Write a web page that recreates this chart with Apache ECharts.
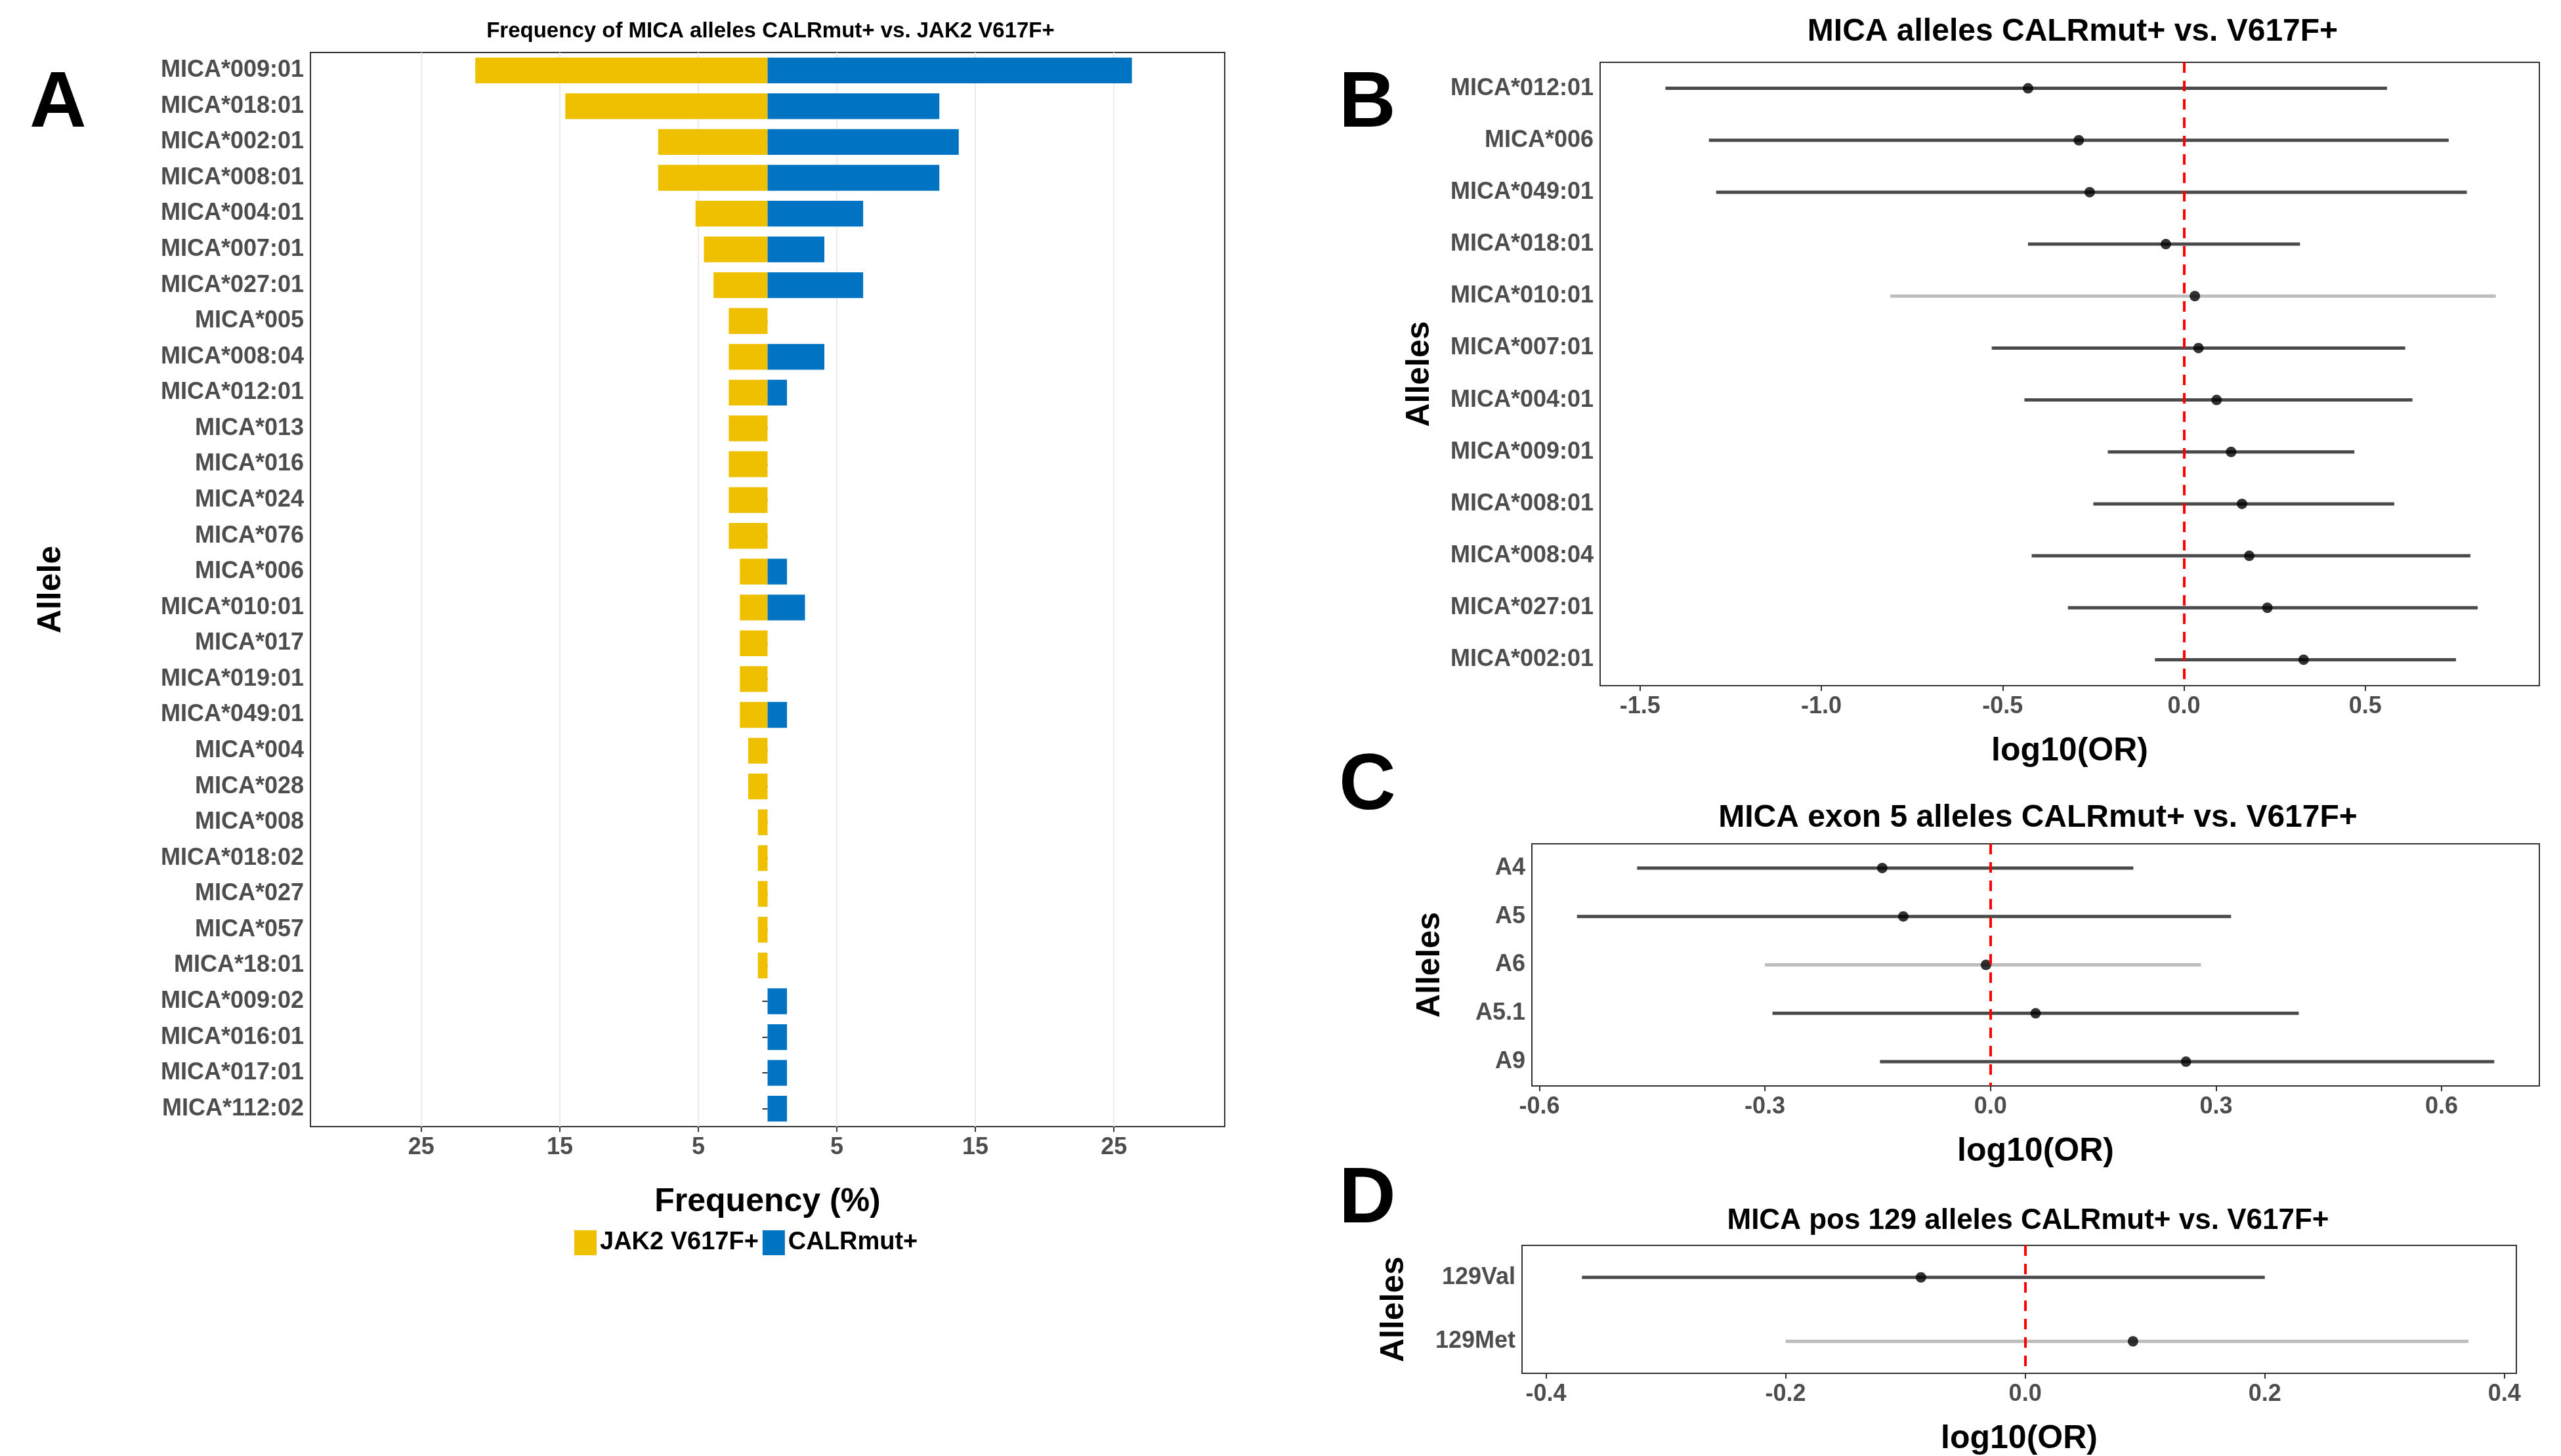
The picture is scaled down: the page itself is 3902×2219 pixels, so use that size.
<!DOCTYPE html>
<html><head><meta charset="utf-8">
<script src="https://cdn.jsdelivr.net/npm/echarts@6/dist/echarts.min.js"></script>
<style>html,body{margin:0;padding:0;background:#fff}#c{width:3902px;height:2219px}</style>
</head><body><div id="c"></div>
<script>
// Panel A
const allelesA = ["MICA*009:01","MICA*018:01","MICA*002:01","MICA*008:01","MICA*004:01","MICA*007:01","MICA*027:01","MICA*005","MICA*008:04","MICA*012:01","MICA*013","MICA*016","MICA*024","MICA*076","MICA*006","MICA*010:01","MICA*017","MICA*019:01","MICA*049:01","MICA*004","MICA*028","MICA*008","MICA*018:02","MICA*027","MICA*057","MICA*18:01","MICA*009:02","MICA*016:01","MICA*017:01","MICA*112:02"];
const jak2 = [21.1,14.6,7.9,7.9,5.2,4.6,3.9,2.8,2.8,2.8,2.8,2.8,2.8,2.8,2.0,2.0,2.0,2.0,2.0,1.4,1.4,0.7,0.7,0.7,0.7,0.7,0,0,0,0];
const calr = [26.3,12.4,13.8,12.4,6.9,4.1,6.9,0,4.1,1.4,0,0,0,0,1.4,2.7,0,0,1.4,0,0,0,0,0,0,0,1.4,1.4,1.4,1.4];
const ticksA = [-25,-15,-5,5,15,25];
// Panel B
const allelesB = ["MICA*012:01","MICA*006","MICA*049:01","MICA*018:01","MICA*010:01","MICA*007:01","MICA*004:01","MICA*009:01","MICA*008:01","MICA*008:04","MICA*027:01","MICA*002:01"];
const orB = [-0.43,-0.29,-0.26,-0.05,0.03,0.04,0.09,0.13,0.16,0.18,0.23,0.33];
const loB = [-1.43,-1.31,-1.29,-0.43,-0.81,-0.53,-0.44,-0.21,-0.25,-0.42,-0.32,-0.08];
const hiB = [0.56,0.73,0.78,0.32,0.86,0.61,0.63,0.47,0.58,0.79,0.81,0.75];
const lightB = [0,0,0,0,1,0,0,0,0,0,0,0];
// Panel C
const allelesC = ["A4","A5","A6","A5.1","A9"];
const orC = [-0.144,-0.116,-0.006,0.06,0.26];
const loC = [-0.47,-0.55,-0.30,-0.29,-0.147];
const hiC = [0.19,0.32,0.28,0.41,0.67];
const lightC = [0,0,1,0,0];
// Panel D
const allelesD = ["129Val","129Met"];
const orD = [-0.087,0.09];
const loD = [-0.37,-0.2];
const hiD = [0.2,0.37];
const lightD = [0,1];

const FONT = "'Liberation Sans Narrow','Liberation Sans',Arial,sans-serif";
const lab = {fontFamily:FONT,fontWeight:'bold',color:'#4d4d4d',fontSize:36};
const nameS = {fontFamily:"'Liberation Sans',Arial,sans-serif",fontWeight:'bold',color:'#000',fontSize:50};

const grids = [
 {left:473,width:1393,top:80,height:1637,show:true,borderColor:'#333',borderWidth:2},
 {left:2438,width:1431,top:95,height:950,show:true,borderColor:'#333',borderWidth:2},
 {left:2334,width:1535,top:1286,height:369,show:true,borderColor:'#333',borderWidth:2},
 {left:2319,width:1515,top:1898,height:197,show:true,borderColor:'#333',borderWidth:2}
];
function xa(i,min,max,interval,name,gap){
  return {gridIndex:i,type:'value',min,max,interval,name,nameLocation:'middle',nameGap:gap,nameTextStyle:nameS,
    axisLine:{show:false},axisTick:{show:true,length:8,lineStyle:{color:'#333',width:2}},
    axisLabel:Object.assign({margin:14},lab),splitLine:{show:false}};
}
function ya(i,data,gap){
  return {gridIndex:i,type:'category',data,inverse:true,name:'Alleles',nameLocation:'middle',nameGap:gap,nameTextStyle:nameS,
    axisLine:{show:false},axisTick:{show:true,alignWithLabel:true,length:8,lineStyle:{color:'#333',width:2}},
    axisLabel:Object.assign({margin:10},lab),splitLine:{show:false}};
}
const xA = xa(0,-33,33,null,'Frequency (%)',90);
xA.axisLabel.customValues = ticksA; xA.axisTick.customValues = ticksA;
xA.axisLabel.formatter = v=>String(Math.abs(v));
xA.splitLine = {show:true,lineStyle:{color:'#ebebeb',width:2}};
xA.minorTick={show:false,splitNumber:2}; 
const yA = ya(0,allelesA,370); yA.name='Allele';
yA.splitLine={show:false};

function forest(i,or,lo,hi,light){
  return [{
    type:'custom',xAxisIndex:i,yAxisIndex:i,
    data: or.map((v,k)=>[lo[k],hi[k],k,light[k]]),
    renderItem:(params,api)=>{
      const a=api.coord([api.value(0),api.value(2)]), b=api.coord([api.value(1),api.value(2)]);
      return {type:'line',shape:{x1:a[0],y1:a[1],x2:b[0],y2:b[1]},
        style:{stroke:api.value(3)?'#bdbdbd':'#4a4a4a',lineWidth:5}};
    },z:2
  },{
    type:'scatter',xAxisIndex:i,yAxisIndex:i,data:or.map((v,k)=>[v,k]),symbolSize:16,
    itemStyle:{color:'#000'},z:4,
    markLine:{silent:true,symbol:'none',label:{show:false},lineStyle:{color:'#ff0000',type:[16,12],width:4},data:[{xAxis:0}]}
  }];
}

const opt = {
  animation:false,
  textStyle:{fontFamily:FONT},
  grid:grids,
  title:[
    {text:'Frequency of MICA alleles CALRmut+ vs. JAK2 V617F+',left:1169,top:26,textAlign:'center',textStyle:{fontFamily:FONT,fontWeight:'bold',fontSize:33,color:'#000'}},
    {text:'MICA alleles CALRmut+ vs. V617F+',left:3153,top:20,textAlign:'center',textStyle:{fontFamily:FONT,fontWeight:'bold',fontSize:48,color:'#000'}},
    {text:'MICA exon 5 alleles CALRmut+ vs. V617F+',left:3100,top:1218,textAlign:'center',textStyle:{fontFamily:FONT,fontWeight:'bold',fontSize:48,color:'#000'}},
    {text:'MICA pos 129 alleles CALRmut+ vs. V617F+',left:3085,top:1834,textAlign:'center',textStyle:{fontFamily:FONT,fontWeight:'bold',fontSize:44,color:'#000'}},
    {text:'A',left:40,top:95,textStyle:{fontFamily:FONT,fontWeight:'bold',fontSize:120,color:'#000'}},
    {text:'B',left:2035,top:95,textStyle:{fontFamily:FONT,fontWeight:'bold',fontSize:120,color:'#000'}},
    {text:'C',left:2035,top:1135,textStyle:{fontFamily:FONT,fontWeight:'bold',fontSize:120,color:'#000'}},
    {text:'D',left:2035,top:1765,textStyle:{fontFamily:FONT,fontWeight:'bold',fontSize:120,color:'#000'}}
  ],
  legend:{data:['JAK2 V617F+','CALRmut+'],left:'auto',right:2902-1169-400+0,top:1870,itemGap:6,itemWidth:34,itemHeight:38,
    textStyle:{fontFamily:FONT,fontWeight:'bold',fontSize:38,color:'#000'},icon:'rect'},
  xAxis:[xA, xa(1,-1.61,0.98,null,'log10(OR)',75), xa(2,-0.61,0.73,null,'log10(OR)',75), xa(3,-0.42,0.41,null,'log10(OR)',75)],
  yAxis:[yA, ya(1,allelesB,250), ya(2,allelesC,130), ya(3,allelesD,170)],
  series:[
    {name:'JAK2 V617F+',type:'bar',stack:'a',xAxisIndex:0,yAxisIndex:0,barWidth:'72%',data:jak2.map(v=>-v),itemStyle:{color:'#EFC000'}},
    {name:'CALRmut+',type:'bar',stack:'a',xAxisIndex:0,yAxisIndex:0,barWidth:'72%',data:calr,itemStyle:{color:'#0073C2'}},
    ...forest(1,orB,loB,hiB,lightB),
    ...forest(2,orC,loC,hiC,lightC),
    ...forest(3,orD,loD,hiD,lightD)
  ]
};
opt.xAxis[1].customValues=undefined;
opt.xAxis[1].axisLabel.customValues=[-1.5,-1,-0.5,0,0.5];
opt.xAxis[1].axisTick.customValues=[-1.5,-1,-0.5,0,0.5];
opt.xAxis[1].axisLabel.formatter=v=>v.toFixed(1);
opt.xAxis[2].axisLabel.customValues=[-0.6,-0.3,0,0.3,0.6];
opt.xAxis[2].axisTick.customValues=[-0.6,-0.3,0,0.3,0.6];
opt.xAxis[2].axisLabel.formatter=v=>v.toFixed(1);
opt.xAxis[3].axisLabel.customValues=[-0.4,-0.2,0,0.2,0.4];
opt.xAxis[3].axisTick.customValues=[-0.4,-0.2,0,0.2,0.4];
opt.xAxis[3].axisLabel.formatter=v=>v.toFixed(1);
opt.legend.left=870; delete opt.legend.right;
const ch = echarts.init(document.getElementById('c'));
ch.setOption(opt);
</script></body></html>
